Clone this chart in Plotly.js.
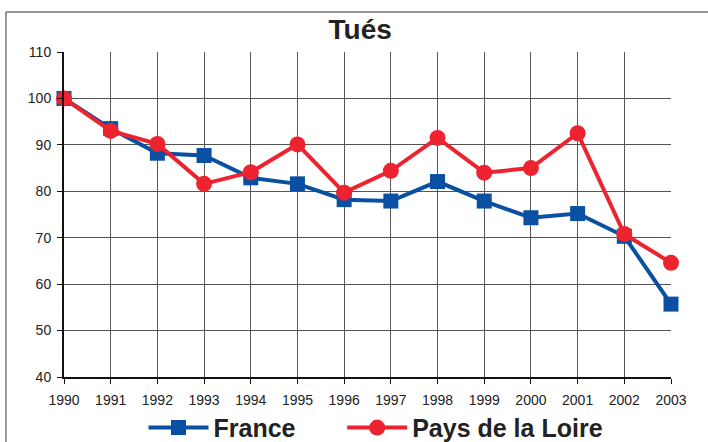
<!DOCTYPE html>
<html>
<head>
<meta charset="utf-8">
<script src="https://cdn.plot.ly/plotly-3.0.1.min.js"></script>
<style>html,body{margin:0;padding:0;background:#fff;}#chart{width:708px;height:442px;}</style>
</head>
<body>
<div id="chart"></div>
<script>
const years = [1990,1991,1992,1993,1994,1995,1996,1997,1998,1999,2000,2001,2002,2003];
const france = [100,93.5,88.2,87.7,82.9,81.6,78.2,77.9,82.1,77.9,74.3,75.2,70.3,55.7];
const paysDeLaLoire = [100,93.0,90.2,81.6,84.1,90.1,79.7,84.4,91.5,84.0,85.0,92.5,70.8,64.6];
const yTicks = [40,50,60,70,80,90,100,110];
const seriesNames = ['France', 'Pays de la Loire'];

const blue = '#0a50a2';
const red = '#ee2330';

const traces = [
  {x: years, y: france, name: seriesNames[0] + '\u00a0\u00a0\u00a0\u00a0\u00a0\u00a0', type: 'scatter', mode: 'lines+markers',
   line: {color: blue, width: 4}, marker: {symbol: 'square', size: 15, color: blue}, cliponaxis: false},
  {x: years, y: paysDeLaLoire, name: seriesNames[1], type: 'scatter', mode: 'lines+markers',
   line: {color: red, width: 4}, marker: {symbol: 'circle', size: 16, color: red}, cliponaxis: false}
];

const layout = {
  width: 708, height: 442,
  margin: {l: 64, r: 37, t: 52, b: 65},
  paper_bgcolor: '#fff', plot_bgcolor: '#fff',
  font: {family: 'Liberation Sans, Arial, sans-serif', color: '#222'},
  title: {text: '<b>Tués</b>', font: {size: 28, color: '#222'}, xref: 'paper', x: 0.488, xanchor: 'center', yref: 'container', y: 0.935, yanchor: 'middle'},
  xaxis: {range: [1990, 2003], tickvals: years, ticktext: years.map(String), showgrid: true, gridcolor: '#555', gridwidth: 1,
          showline: true, linecolor: '#111', linewidth: 1.5, ticks: 'outside', ticklen: 5, tickcolor: '#111',
          ticklabelstandoff: 5, automargin: false,
          tickfont: {size: 14, color: '#222'}, zeroline: false, fixedrange: true},
  yaxis: {range: [40, 110], tickvals: yTicks, showgrid: true, gridcolor: '#555', gridwidth: 1,
          showline: true, linecolor: '#111', linewidth: 2, ticks: 'outside', ticklen: 5, tickcolor: '#111',
          ticklabelstandoff: 3, automargin: false,
          tickfont: {size: 14, color: '#222'}, zeroline: false, fixedrange: true},
  showlegend: true,
  legend: {orientation: 'h', xref: 'paper', x: 0.514, xanchor: 'center', yref: 'container', y: 0.032, yanchor: 'middle',
           font: {size: 25, color: '#222', weight: 'bold'}, itemwidth: 60, bgcolor: 'rgba(0,0,0,0)'},
  shapes: [{type: 'rect', xref: 'paper', yref: 'paper', x0: -0.0956, x1: 1.2, y0: -0.4, y1: 1.123,
            line: {color: '#333', width: 1}, layer: 'below'}]
};

Plotly.newPlot('chart', traces, layout, {displayModeBar: false, staticPlot: true});
</script>
</body>
</html>
